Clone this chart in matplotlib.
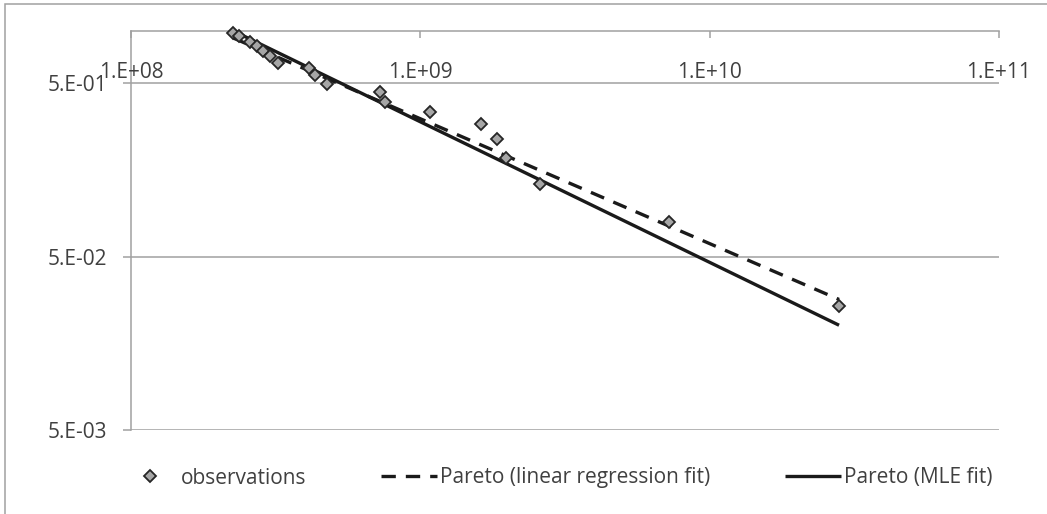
import numpy as np
import matplotlib
matplotlib.use('Agg')
import matplotlib.pyplot as plt
from matplotlib.patches import Rectangle
import matplotlib.transforms as mtransforms

plt.rcParams['font.family'] = ['Open Sans', 'DejaVu Sans']

# observations
obs_x = [2.26e8, 2.37e8, 2.58e8, 2.72e8, 2.87e8, 3.02e8, 3.23e8, 4.13e8, 4.31e8, 4.77e8,
         7.25e8, 7.55e8, 1.08e9, 1.62e9, 1.84e9, 1.97e9, 2.59e9, 7.25e9, 2.80e10]
obs_y = [0.975, 0.933, 0.865, 0.817, 0.768, 0.715, 0.655, 0.608, 0.561, 0.498,
         0.445, 0.390, 0.342, 0.290, 0.237, 0.184, 0.131, 0.0787, 0.0260]

# fitted Pareto lines (end points, straight in log-log)
fit_x = [2.26e8, 2.80e10]
lr_y = [0.91, 0.0283]
mle_y = [1.0, 0.0201]

x_ticks = [1e8, 1e9, 1e10, 1e11]
x_labels = ['1.E+08', '1.E+09', '1.E+10', '1.E+11']
y_ticks = [5e-3, 5e-2, 5e-1]
y_labels = ['5.E-03', '5.E-02', '5.E-01']

grey = '#A0A0A0'
txt = '#404040'
fs = 15

fig = plt.figure(figsize=(10.47, 5.14), dpi=100)
ax = fig.add_axes([131 / 1047, 1 - 430 / 514, (999 - 131) / 1047, (430 - 31) / 514])

ax.set_xscale('log')
ax.set_yscale('log')
ax.set_xlim(1e8, 1e11)
ax.set_ylim(5e-3, 1.0)

ax.plot(fit_x, lr_y, color='#1a1a1a', lw=2.4, dashes=(4.3, 3.0),
        label='Pareto (linear regression fit)', zorder=3, clip_on=False)
ax.plot(fit_x, mle_y, color='#1a1a1a', lw=2.4, solid_capstyle='butt',
        label='Pareto (MLE fit)', zorder=3, clip_on=False)
ax.plot(obs_x, obs_y, ls='none', marker='D', ms=6.5, mfc='#A6A6A6', mec='#262626',
        mew=1.3, label='observations', zorder=4, clip_on=False)

# axes styling
ax.yaxis.set_major_locator(plt.FixedLocator(y_ticks))
ax.yaxis.set_minor_locator(plt.NullLocator())
ax.set_yticklabels(y_labels)
ax.xaxis.set_major_locator(plt.FixedLocator(x_ticks))
ax.xaxis.set_minor_locator(plt.NullLocator())
ax.xaxis.tick_top()
ax.tick_params(axis='x', direction='in', length=5, width=1.1, color=grey, labeltop=False)
ax.tick_params(axis='y', direction='out', length=6, width=1.1, color=grey,
               labelsize=fs, labelcolor=txt, pad=11)
ax.grid(axis='y', color=grey, lw=1.1)
for s in ['right', 'bottom']:
    ax.spines[s].set_visible(False)
for s in ['left', 'top']:
    ax.spines[s].set_color(grey)
    ax.spines[s].set_linewidth(1.1)

trans = mtransforms.blended_transform_factory(ax.transData, ax.transAxes)
for xt, lab in zip(x_ticks, x_labels):
    ax.text(xt, 0.897, lab, transform=trans, ha='center', va='center',
            fontsize=fs, color=txt)

# legend
h, l = ax.get_legend_handles_labels()
order = [2, 0, 1]
fig.legend([h[i] for i in order], [l[i] for i in order], loc='center',
           bbox_to_anchor=(0.532, 1 - 478 / 514), ncol=3, frameon=False,
           fontsize=fs, labelcolor=txt, handlelength=2.7, handletextpad=0.12,
           columnspacing=3.6)

# chart border
fig.patches.append(Rectangle((5 / 1047, -0.05), 1.1, 1.05 - 4 / 514,
                             transform=fig.transFigure, fill=False,
                             edgecolor=grey, lw=1.1, clip_on=False))

fig.savefig('out.png', dpi=100, facecolor='white')
